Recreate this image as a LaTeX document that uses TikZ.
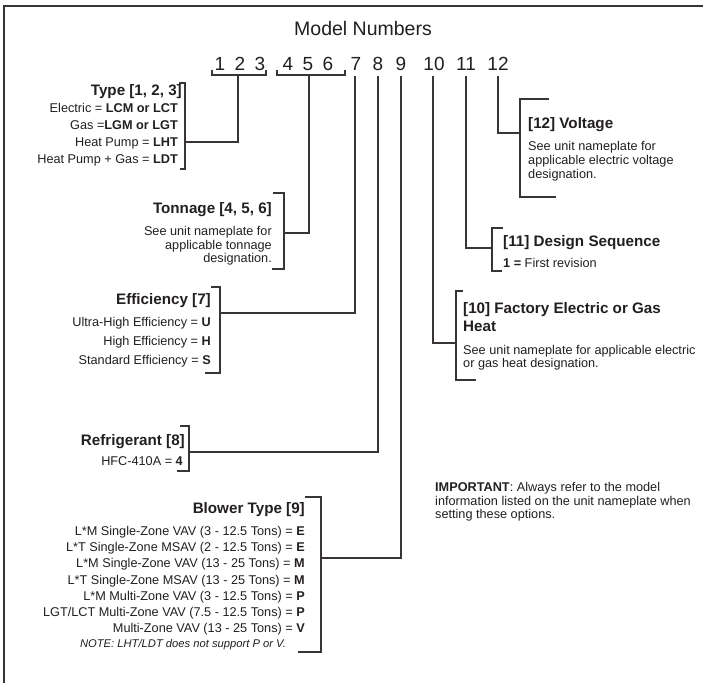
\documentclass[tikz,border=0pt]{standalone}
\usepackage{fontspec}
\setmainfont{Liberation Sans}
\definecolor{ink}{HTML}{231F20}
\begin{document}
\begin{tikzpicture}[x=1pt,y=-1pt,
  frame/.style={line width=1.4pt, draw=ink!90},
  conn/.style={line width=1.1pt, draw=ink!90},
  hdr/.style={font=\fontsize{15.2}{18}\selectfont\bfseries, inner sep=0pt, text=ink},
  body/.style={font=\fontsize{12.7}{14}\selectfont, inner sep=0pt, text=ink},
  digit/.style={font=\fontsize{19}{22}\selectfont, inner sep=0pt, anchor=base, text=ink},
  ttl/.style={font=\fontsize{19.5}{23}\selectfont, inner sep=0pt, anchor=base, text=ink}]
\useasboundingbox (0,0) rectangle (703,683);
\fill[white] (0,0) rectangle (703,683);

% frame
\draw[frame] (4,683) -- (4,6) -- (703,6);

% title
\node[ttl] (title) at (363,35) {Model Numbers};

% digits
\node[digit] (d1) at (220,70) {1};
\node[digit] (d2) at (240,70) {2};
\node[digit] (d3) at (260,70) {3};
\node[digit] (d4) at (288,70) {4};
\node[digit] (d5) at (308,70) {5};
\node[digit] (d6) at (328,70) {6};
\node[digit] (d7) at (356,70) {7};
\node[digit] (d8) at (378,70) {8};
\node[digit] (d9) at (401,70) {9};
\node[digit] (d10) at (434,70) {10};
\node[digit] (d11) at (466,70) {11};
\node[digit] (d12) at (498,70) {12};

% group brackets under digits
\draw[conn] (212,70) -- (212,75) -- (266,75) -- (266,70);
\draw[conn] (277,70) -- (277,75) -- (345,75) -- (345,70);

% start points of connectors
\coordinate (s123) at (238,75);
\coordinate (s456) at (309,75);
\coordinate (s7) at (355,76);
\coordinate (s8) at (378,76);
\coordinate (s9) at (401,76);
\coordinate (s10) at (433,76);
\coordinate (s11) at (466,76);
\coordinate (s12) at (498,76);

% ---------- Type ----------
\draw[conn] (179,83) -- (185,83) -- (185,169) -- (180,169);
\coordinate (jType) at (185,142);
\node[hdr, anchor=base east] (typeH) at (182,95.4) {Type [1, 2, 3]};
\node[body, anchor=base east] (typeL) at (178,112.5) {\fontsize{12.7}{17}\selectfont\begin{tabular}[t]{@{}r@{}}
Electric = \textbf{LCM or LCT}\\
Gas =\textbf{LGM or LGT}\\
Heat Pump = \textbf{LHT}\\
Heat Pump + Gas = \textbf{LDT}
\end{tabular}};

% ---------- Tonnage ----------
\draw[conn] (273,193) -- (284,193) -- (284,269) -- (272,269);
\coordinate (jTon) at (284,233);
\node[hdr, anchor=base east] (tonH) at (272,213.4) {Tonnage [4, 5, 6]};
\node[body, anchor=base east] (tonL) at (272,235.5) {\fontsize{12.7}{13.5}\selectfont\begin{tabular}[t]{@{}r@{}}
See unit nameplate for\\
applicable tonnage\\
designation.
\end{tabular}};

% ---------- Efficiency ----------
\draw[conn] (211,287) -- (220,287) -- (220,373) -- (205,373);
\coordinate (jEff) at (220,313);
\node[hdr, anchor=base east] (effH) at (211,304.4) {Efficiency [7]};
\node[body, anchor=base east] (effL) at (211,326.5) {\fontsize{12.7}{19}\selectfont\begin{tabular}[t]{@{}r@{}}
Ultra-High Efficiency = \textbf{U}\\
High Efficiency = \textbf{H}\\
Standard Efficiency = \textbf{S}
\end{tabular}};

% ---------- Refrigerant ----------
\draw[conn] (180,426) -- (189,426) -- (189,471) -- (177,471);
\coordinate (jRef) at (189,452);
\node[hdr, anchor=base east] (refH) at (185,445.4) {Refrigerant [8]};
\node[body, anchor=base east] (refL) at (183,465.5) {HFC-410A = \textbf{4}};

% ---------- Blower ----------
\draw[conn] (305,497) -- (321,497) -- (321,652) -- (298,652);
\coordinate (jBlow) at (321,558);
\node[hdr, anchor=base east] (blowH) at (305,513.4) {Blower Type [9]};
\node[body, anchor=base east] (blowL) at (305,535.5) {\fontsize{12.7}{16.2}\selectfont\begin{tabular}[t]{@{}r@{}}
L*M Single-Zone VAV (3 - 12.5 Tons) = \textbf{E}\\
L*T Single-Zone MSAV (2 - 12.5 Tons) = \textbf{E}\\
L*M Single-Zone VAV (13 - 25 Tons) = \textbf{M}\\
L*T Single-Zone MSAV (13 - 25 Tons) = \textbf{M}\\
L*M Multi-Zone VAV (3 - 12.5 Tons) = \textbf{P}\\
LGT/LCT Multi-Zone VAV (7.5 - 12.5 Tons) = \textbf{P}\\
Multi-Zone VAV (13 - 25 Tons) = \textbf{V}
\end{tabular}};
\node[inner sep=0pt, anchor=base, text=ink, font=\fontsize{11.2}{13}\selectfont\itshape] (note) at (183,647) {NOTE: LHT/LDT does not support P or V.};

% ---------- Voltage ----------
\draw[conn] (549,99) -- (520,99) -- (520,197) -- (556,197);
\coordinate (jVolt) at (520,133);
\node[hdr, anchor=base west] (voltH) at (528,128.4) {[12] Voltage};
\node[body, anchor=base west] (voltL) at (528,150.5) {\fontsize{12.7}{14}\selectfont\begin{tabular}[t]{@{}l@{}}
See unit nameplate for\\
applicable electric voltage\\
designation.
\end{tabular}};

% ---------- Design Sequence ----------
\draw[conn] (503,228) -- (492,228) -- (492,271) -- (502,271);
\coordinate (jDes) at (492,248);
\node[hdr, anchor=base west] (desH) at (503,246.4) {[11] Design Sequence};
\node[body, anchor=base west] (desL) at (503,267.5) {\textbf{1 =} First revision};

% ---------- Factory heat ----------
\draw[conn] (463,291) -- (456,291) -- (456,380) -- (476,380);
\coordinate (jFac) at (456,343);
\node[hdr, anchor=base west] (facH) at (463,313.4) {\fontsize{15.2}{18}\selectfont\bfseries\begin{tabular}[t]{@{}l@{}}
[10] Factory Electric or Gas\\
Heat
\end{tabular}};
\node[body, anchor=base west] (facL) at (463,354.5) {\fontsize{12.7}{13.2}\selectfont\begin{tabular}[t]{@{}l@{}}
See unit nameplate for applicable electric\\
or gas heat designation.
\end{tabular}};

% ---------- Important ----------
\node[body, anchor=base west] (imp) at (435,491.5) {\fontsize{12.7}{13.5}\selectfont\begin{tabular}[t]{@{}l@{}}
\textbf{IMPORTANT}: Always refer to the model\\
information listed on the unit nameplate when\\
setting these options.
\end{tabular}};

% ---------- connectors ----------
\draw[conn] (s123) |- (jType);
\draw[conn] (s456) |- (jTon);
\draw[conn] (s7) |- (jEff);
\draw[conn] (s8) |- (jRef);
\draw[conn] (s9) |- (jBlow);
\draw[conn] (s10) |- (jFac);
\draw[conn] (s11) |- (jDes);
\draw[conn] (s12) |- (jVolt);
\end{tikzpicture}
\end{document}
